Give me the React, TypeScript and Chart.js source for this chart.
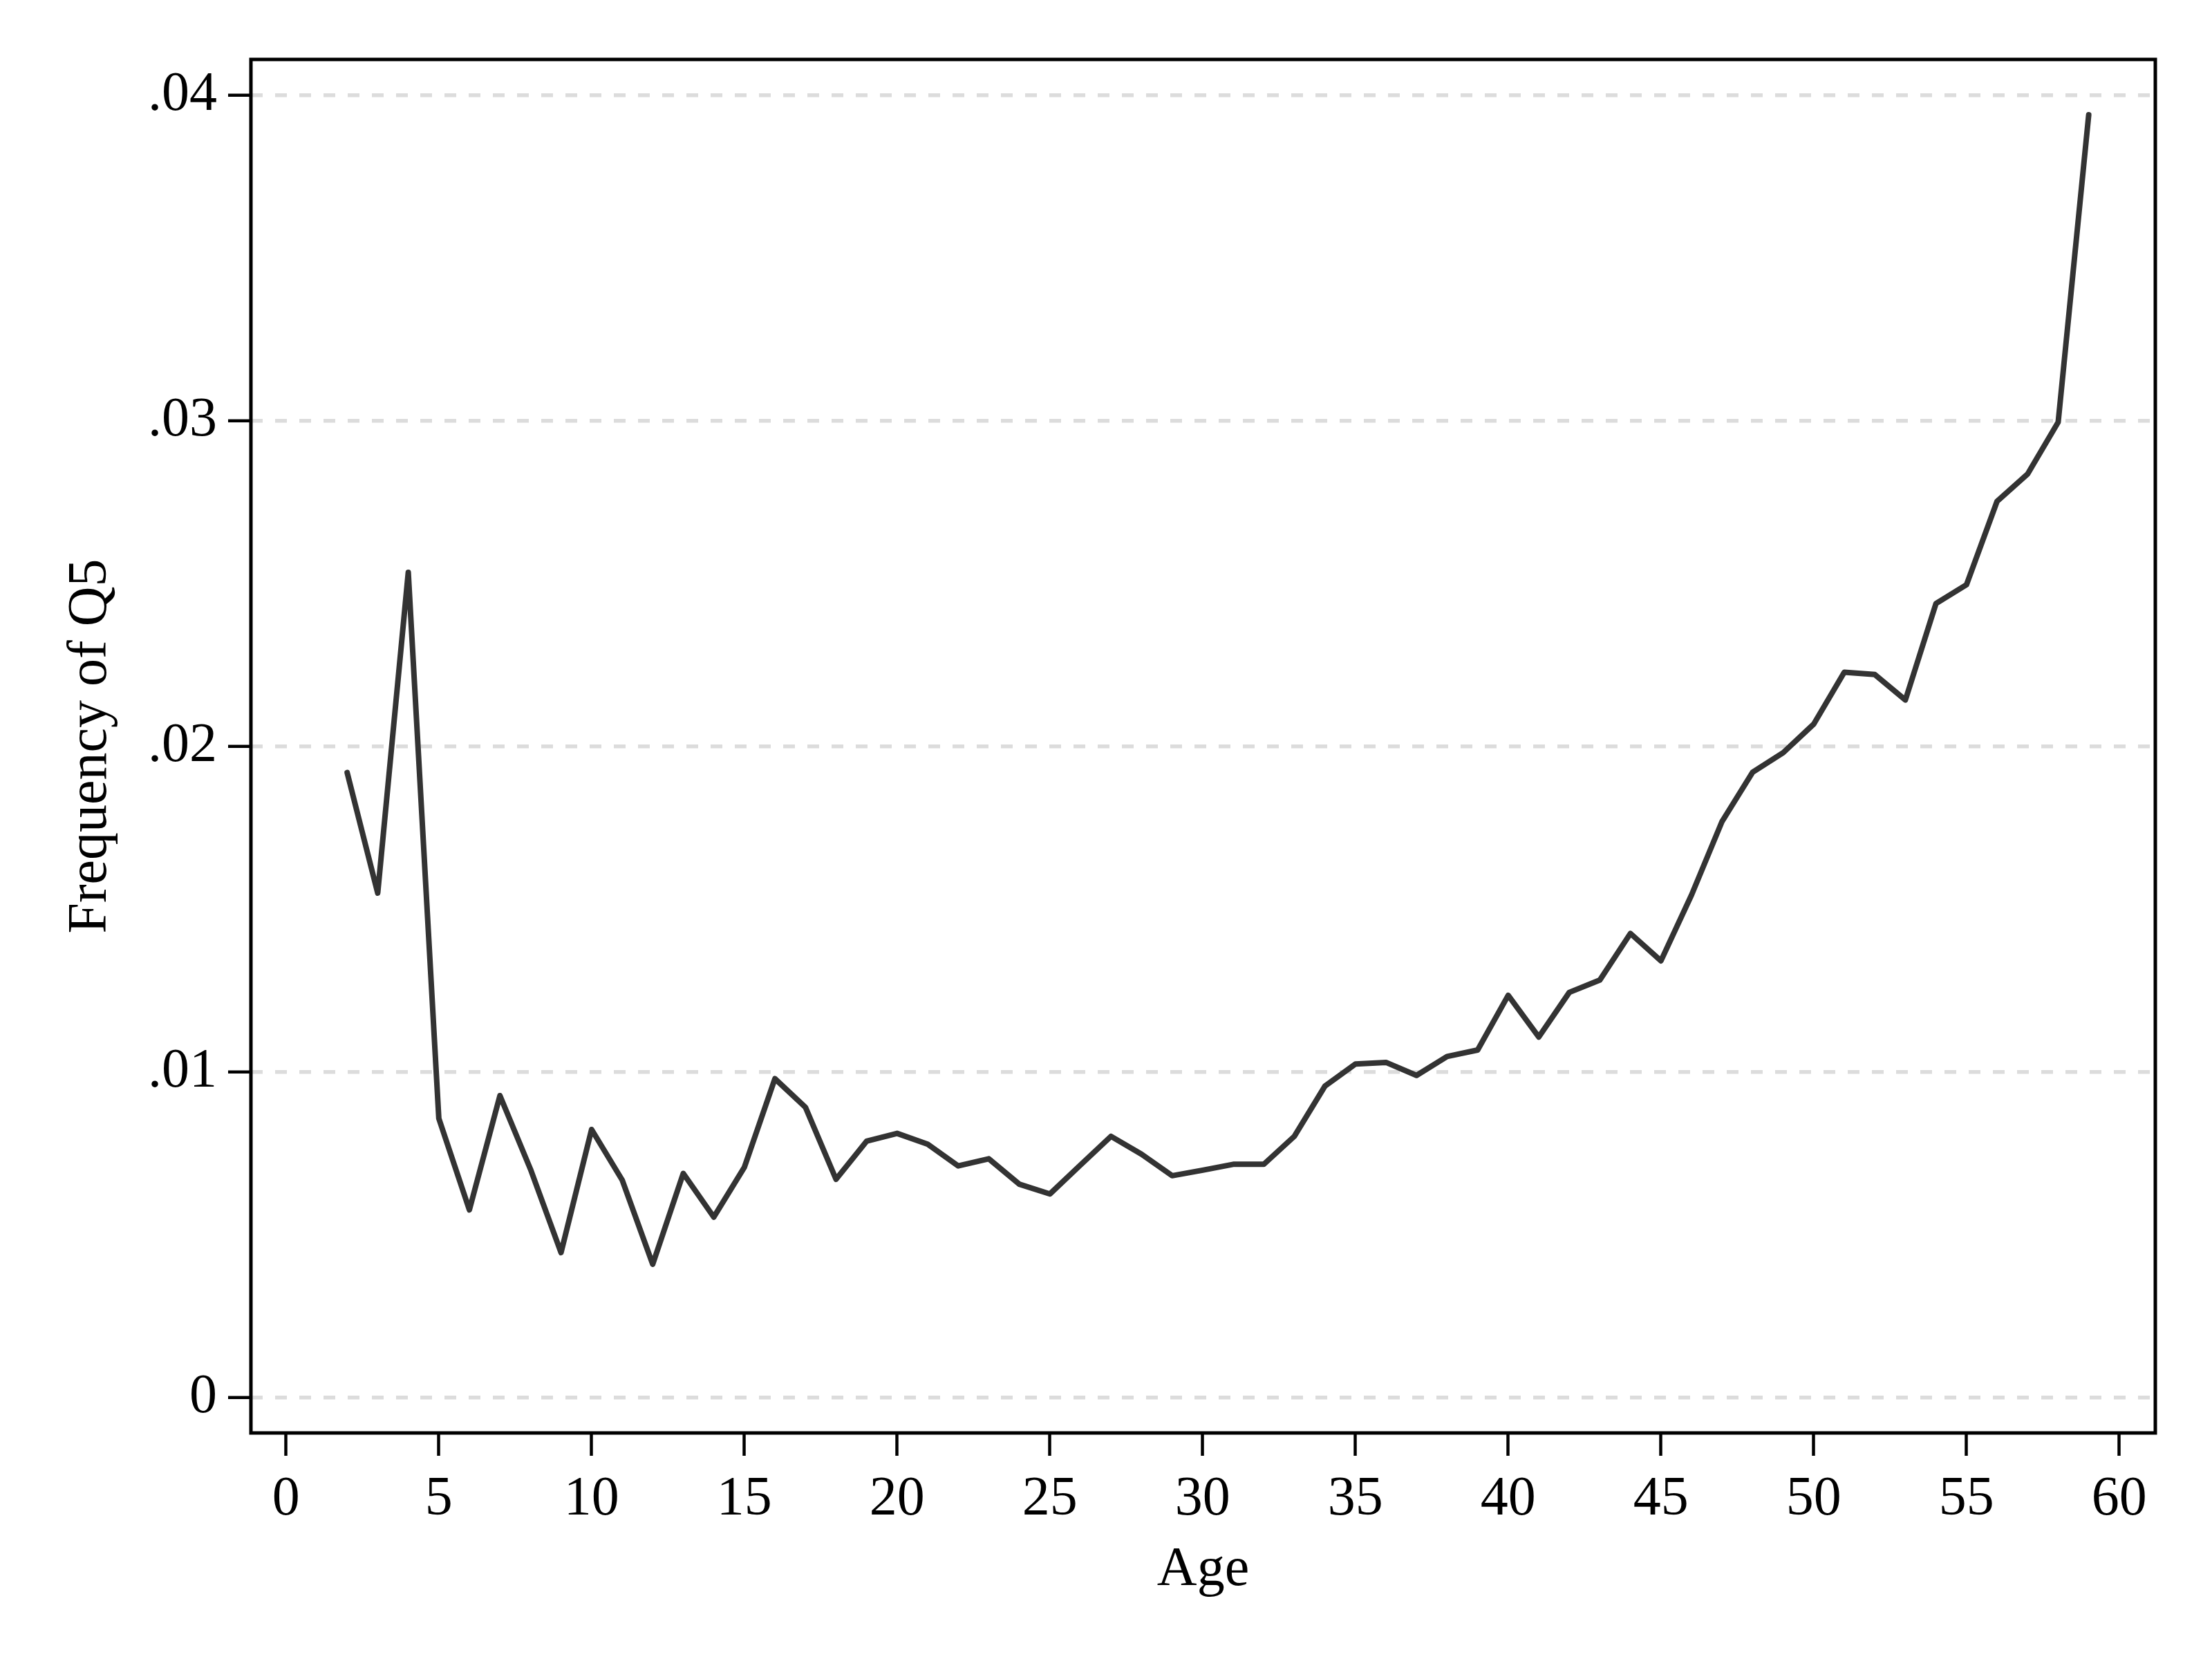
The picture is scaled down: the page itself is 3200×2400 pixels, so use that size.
import React, { useEffect, useRef } from "react";
import { Chart, registerables } from "chart.js";

Chart.register(...registerables);

const ages = [
  2, 3, 4, 5, 6, 7, 8, 9, 10, 11, 12, 13, 14, 15, 16, 17, 18, 19, 20, 21,
  22, 23, 24, 25, 26, 27, 28, 29, 30, 31, 32, 33, 34, 35, 36, 37, 38, 39, 40,
  41, 42, 43, 44, 45, 46, 47, 48, 49, 50, 51, 52, 53, 54, 55, 56, 57, 58, 59,
];

const freqQ5 = [
  0.0192, 0.0155, 0.02535, 0.00858, 0.00577, 0.00928, 0.00702, 0.00446,
  0.00824, 0.00669, 0.0041, 0.00689, 0.00555, 0.00708, 0.0098, 0.00892,
  0.00671, 0.00788, 0.00812, 0.00779, 0.00712, 0.00734, 0.00656, 0.00626,
  0.00715, 0.00803, 0.00748, 0.00682, 0.00699, 0.00717, 0.00717, 0.00803,
  0.00957, 0.01025, 0.0103, 0.0099, 0.01048, 0.01068, 0.01236, 0.01108,
  0.01245, 0.01283, 0.01426, 0.01342, 0.01544, 0.0177, 0.01921, 0.01981,
  0.02069, 0.02228, 0.02221, 0.02143, 0.02439, 0.02497, 0.02753, 0.02837,
  0.02996, 0.0394,
];

const xTickValues = [0, 5, 10, 15, 20, 25, 30, 35, 40, 45, 50, 55, 60];
const yTickValues = [0, 0.01, 0.02, 0.03, 0.04];
const yTickLabels = ["0", ".01", ".02", ".03", ".04"];

const xTitle = "Age";
const yTitle = "Frequency of Q5";

const FONT = "'Liberation Serif', 'Times New Roman', serif";

const framePlugin = {
  id: "frame",
  afterDraw(chart: any) {
    const { ctx, chartArea } = chart;
    ctx.save();
    ctx.strokeStyle = "#000000";
    ctx.lineWidth = 5;
    ctx.setLineDash([]);
    ctx.strokeRect(
      chartArea.left,
      chartArea.top,
      chartArea.right - chartArea.left,
      chartArea.bottom - chartArea.top
    );
    ctx.restore();
  },
};

export default function App() {
  const ref = useRef<HTMLCanvasElement | null>(null);

  useEffect(() => {
    if (!ref.current) return;
    const chart = new Chart(ref.current, {
      type: "line",
      data: {
        datasets: [
          {
            data: ages.map((a, i) => ({ x: a, y: freqQ5[i] })),
            borderColor: "#333333",
            borderWidth: 8,
            pointRadius: 0,
            tension: 0,
            fill: false,
            borderJoinStyle: "round",
            borderCapStyle: "round",
          },
        ],
      },
      plugins: [framePlugin],
      options: {
        animation: false,
        responsive: false,
        devicePixelRatio: 1,
        layout: { padding: { left: 0, top: 86, right: 82, bottom: 0 } },
        plugins: {
          legend: { display: false },
          tooltip: { enabled: false },
        },
        scales: {
          x: {
            type: "linear",
            min: -1.15,
            max: 61.18,
            afterBuildTicks: (scale: any) => {
              scale.ticks = xTickValues.map((v) => ({ value: v }));
            },
            afterFit: (scale: any) => {
              scale.height = 327;
            },
            grid: {
              drawOnChartArea: false,
              drawTicks: true,
              tickLength: 33,
              tickWidth: 4.5,
              tickColor: "#000000",
              color: "#000000",
            },
            border: { display: false },
            ticks: {
              autoSkip: false,
              maxRotation: 0,
              padding: 16,
              color: "#000000",
              font: { family: FONT, size: 80 },
              callback: (v: any) => String(v),
            },
            title: {
              display: true,
              text: xTitle,
              color: "#000000",
              font: { family: FONT, size: 80 },
              padding: { top: 0, bottom: 80 },
            },
          },
          y: {
            type: "linear",
            min: -0.00108,
            max: 0.0411,
            afterBuildTicks: (scale: any) => {
              scale.ticks = yTickValues.map((v) => ({ value: v }));
            },
            afterFit: (scale: any) => {
              scale.width = 363;
            },
            grid: {
              drawOnChartArea: true,
              drawTicks: true,
              tickLength: 33,
              color: "#dcdcdc",
              lineWidth: 5.5,
              tickWidth: 4.5,
              tickColor: "#000000",
              tickBorderDash: [],
            },
            border: { display: false, dash: [17, 18] },
            ticks: {
              autoSkip: false,
              padding: 16,
              color: "#000000",
              font: { family: FONT, size: 80 },
              callback: (v: any) => {
                const idx = yTickValues.findIndex((t) => Math.abs(t - v) < 1e-9);
                return idx >= 0 ? yTickLabels[idx] : "";
              },
            },
            title: {
              display: true,
              text: yTitle,
              color: "#000000",
              font: { family: FONT, size: 80 },
              padding: { top: 84, bottom: 0 },
            },
          },
        },
      } as any,
    });
    return () => chart.destroy();
  }, []);

  return (
    <div style={{ position: "absolute", left: 0, top: 0, width: 3200, height: 2400, background: "#ffffff" }}>
      <canvas ref={ref} width={3200} height={2400} style={{ width: 3200, height: 2400 }} />
    </div>
  );
}
